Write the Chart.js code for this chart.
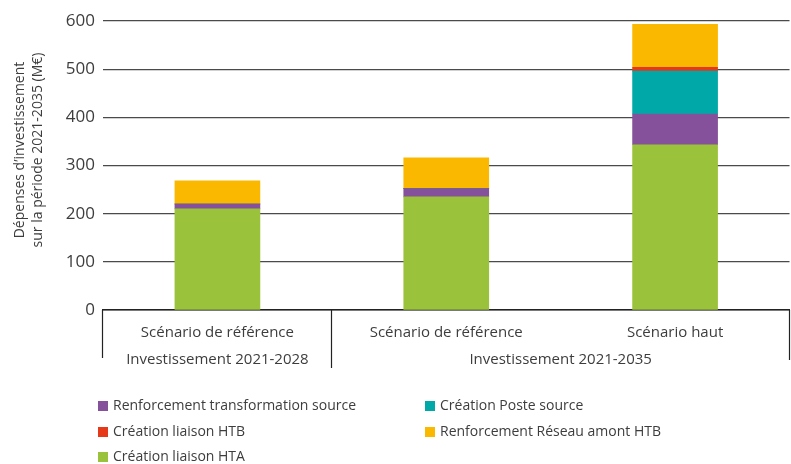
<!DOCTYPE html>
<html>
<head>
<meta charset="utf-8">
<script src="https://cdn.jsdelivr.net/npm/chart.js@4"></script>
<style>
  html, body { margin: 0; padding: 0; background: #fff; }
  #wrap { width: 791px; height: 464px; position: relative; }
</style>
</head>
<body>
<div id="wrap"><canvas id="chart"></canvas></div>
<script>
// categories and groups
const categories = ['Scénario de référence', 'Scénario de référence', 'Scénario haut'];
const groupLabels = ['Investissement 2021-2028', 'Investissement 2021-2035'];
const groupSpans = [[0, 0], [1, 2]];
const yTitle = ['Dépenses d’investissement', 'sur la période 2021-2035 (M€)'];

// series values (M€)
const creationHTA = [210, 235, 343];
const renfTransfo = [10, 17, 64];
const creationPoste = [0, 0, 89];
const creationHTB = [0, 0, 8];
const renfAmont = [48, 64, 89];

const yTicks = [0, 100, 200, 300, 400, 500, 600];

const textColor = '#3d3d3d';
const font = "'Open Sans', sans-serif";

// separators under the axis, group labels, y title and a two-column legend
const groupAxis = {
  id: 'groupAxis',
  afterDraw(chart) {
    const ctx = chart.ctx;
    const x = chart.scales.x;
    const area = chart.chartArea;
    const half = (x.getPixelForValue(1) - x.getPixelForValue(0)) / 2;
    ctx.save();
    ctx.strokeStyle = '#222';
    ctx.lineWidth = 1.2;
    const seps = [[area.left, 48], [x.getPixelForValue(0) + half, 58], [area.right, 50]];
    seps.forEach(([px, len]) => {
      ctx.beginPath();
      ctx.moveTo(Math.round(px) - 0.5, area.bottom);
      ctx.lineTo(Math.round(px) - 0.5, area.bottom + len);
      ctx.stroke();
    });
    ctx.fillStyle = textColor;
    ctx.font = '15px ' + font;
    ctx.textAlign = 'center';
    ctx.textBaseline = 'middle';
    groupSpans.forEach((s, i) => {
      const cx = (x.getPixelForValue(s[0]) + x.getPixelForValue(s[1])) / 2;
      ctx.fillText(groupLabels[i], cx, area.bottom + 50);
    });

    // y title, rotated
    ctx.save();
    ctx.translate(0, 150);
    ctx.rotate(-Math.PI / 2);
    ctx.font = '14px ' + font;
    ctx.fillText(yTitle[0], 0, 20);
    ctx.fillText(yTitle[1], 0, 38);
    ctx.restore();

    // legend
    const order = [1, 2, 3, 4, 0];
    const cols = [98, 425];
    const rows = [406, 432, 457];
    ctx.font = '14px ' + font;
    ctx.textAlign = 'left';
    order.forEach((di, k) => {
      const ds = chart.data.datasets[di];
      const bx = cols[k % 2];
      const by = rows[Math.floor(k / 2)];
      ctx.fillStyle = ds.backgroundColor;
      ctx.fillRect(bx, by - 5, 10, 10);
      ctx.fillStyle = textColor;
      ctx.fillText(ds.label, bx + 15, by);
    });
    ctx.restore();
  }
};

new Chart(document.getElementById('chart'), {
  type: 'bar',
  data: {
    labels: categories,
    datasets: [
      { label: 'Création liaison HTA', data: creationHTA, backgroundColor: '#9bc23b' },
      { label: 'Renforcement transformation source', data: renfTransfo, backgroundColor: '#86519b' },
      { label: 'Création Poste source', data: creationPoste, backgroundColor: '#00a9a8' },
      { label: 'Création liaison HTB', data: creationHTB, backgroundColor: '#e5391a' },
      { label: 'Renforcement Réseau amont HTB', data: renfAmont, backgroundColor: '#fbb800' }
    ]
  },
  options: {
    responsive: true,
    maintainAspectRatio: false,
    animation: false,
    layout: { padding: { top: 21, right: 1.5, left: 0, bottom: 0 } },
    datasets: { bar: { barThickness: 85, borderWidth: 0 } },
    plugins: {
      legend: { display: false },
      tooltip: { enabled: false }
    },
    scales: {
      x: {
        stacked: true,
        grid: { display: false },
        border: { display: true, color: '#222', width: 1.5 },
        ticks: { color: textColor, font: { family: font, size: 15 }, padding: 6 },
        afterFit(scale) { scale.height = 154; }
      },
      y: {
        stacked: true,
        min: 0,
        max: 600,
        afterBuildTicks(scale) { scale.ticks = yTicks.map(v => ({ value: v })); },
        grid: { color: '#4a4a4a', lineWidth: 1.2, drawTicks: false },
        border: { display: false },
        ticks: { color: textColor, font: { family: font, size: 17 }, padding: 8 },
        afterFit(scale) { scale.width = 103; }
      }
    }
  },
  plugins: [groupAxis]
});
</script>
</body>
</html>
